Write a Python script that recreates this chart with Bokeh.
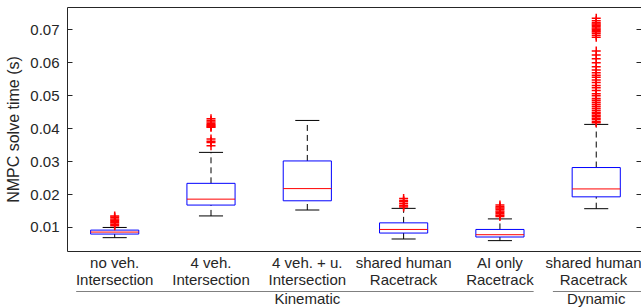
from bokeh.plotting import figure
from bokeh.models import LinearAxis, FixedTicker, Range1d
from bokeh.core.properties import value
from bokeh.embed import file_html
from bokeh.resources import INLINE

# ---------------- data ----------------
categories = ["no veh.\nIntersection", "4 veh.\nIntersection", "4 veh. + u.\nIntersection",
              "shared human\nRacetrack", "AI only\nRacetrack", "shared human\nRacetrack"]
groups = ["Kinematic", "Dynamic"]
group_sizes = [5, 1]

whisker_low = [0.0069, 0.0135, 0.0153, 0.0065, 0.0060, 0.0157]
q1 = [0.0080, 0.0168, 0.0181, 0.0083, 0.0071, 0.0193]
median = [0.0086, 0.0186, 0.0218, 0.0094, 0.0078, 0.0217]
q3 = [0.0092, 0.0234, 0.0302, 0.0114, 0.0094, 0.0282]
whisker_high = [0.0100, 0.0328, 0.0425, 0.0158, 0.0126, 0.0413]

outliers_no_veh = [0.0105, 0.0110, 0.0114, 0.0118, 0.0122, 0.0126, 0.0131, 0.0135]
outliers_4veh = [0.0348, 0.0358, 0.0362, 0.0369, 0.0404, 0.0406, 0.0410, 0.0412,
                 0.0416, 0.0420, 0.0425, 0.0430]
outliers_4veh_u = []
outliers_shared_kin = [0.0162, 0.0166, 0.0172, 0.0178, 0.0182, 0.0188]
outliers_ai_only = [0.0133, 0.0137, 0.0142, 0.0146, 0.0150, 0.0155, 0.0159, 0.0163, 0.0168]
outliers_shared_dyn = [0.0418, 0.0422, 0.0428, 0.0432, 0.0437, 0.0441, 0.0446, 0.0450,
                       0.0456, 0.0462, 0.0468, 0.0474, 0.0480, 0.0486, 0.0492, 0.0500,
                       0.0506, 0.0516, 0.0524, 0.0531, 0.0540, 0.0548, 0.0556, 0.0562,
                       0.0570, 0.0578, 0.0588, 0.0600, 0.0612, 0.0624, 0.0636, 0.0678,
                       0.0684, 0.0690, 0.0694, 0.0698, 0.0702, 0.0706, 0.0710, 0.0714,
                       0.0718, 0.0722, 0.0728, 0.0735]
outliers = [outliers_no_veh, outliers_4veh, outliers_4veh_u,
            outliers_shared_kin, outliers_ai_only, outliers_shared_dyn]

y_ticks = [0.01, 0.02, 0.03, 0.04, 0.05, 0.06, 0.07]
y_tick_labels = ["0.01", "0.02", "0.03", "0.04", "0.05", "0.06", "0.07"]
y_label = "NMPC solve time (s)"

# ---------------- layout / style ----------------
FONT = "Liberation Sans"
AX = "#262626"
positions = list(range(1, len(categories) + 1))
Y0, Y1 = 0.0027, 0.0768
FIG_W, FIG_H = 641, 307
TOP, BOTTOM = 7, 56
FRAME_H = FIG_H - BOTTOM - TOP
BOX_HALF = 0.25
CAP_HALF = 0.125

p = figure(width=FIG_W, height=FIG_H, x_range=Range1d(0.51, 6.47), y_range=Range1d(Y0, Y1),
           output_backend="svg", toolbar_location=None,
           x_axis_location=None, y_axis_location=None,
           min_border_left=67, min_border_right=0, min_border_top=TOP,
           min_border_bottom=BOTTOM)
p.grid.visible = False
p.outline_line_color = None
p.background_fill_color = "white"
p.border_fill_color = "white"

# left axis
yax = LinearAxis(ticker=FixedTicker(ticks=y_ticks),
                 major_label_overrides=dict(zip(y_ticks, y_tick_labels)),
                 axis_label=y_label,
                 axis_label_text_font=FONT, axis_label_text_font_size="16px",
                 axis_label_text_font_style="normal", axis_label_text_color=AX,
                 axis_label_standoff=5,
                 major_label_text_font=FONT, major_label_text_font_size="15px",
                 major_label_text_color=AX, major_label_standoff=8,
                 major_tick_in=5, major_tick_out=0, major_tick_line_color=AX,
                 minor_tick_line_color=None, axis_line_color=AX)
p.add_layout(yax, "left")

# right axis (ticks only)
rax = LinearAxis(ticker=FixedTicker(ticks=y_ticks), major_label_text_font_size="0px",
                 major_label_text_color=None, major_label_standoff=0,
                 major_tick_in=5, major_tick_out=0, major_tick_line_color=AX,
                 minor_tick_line_color=None, axis_line_color=None)
p.add_layout(rax, "right")

# top border
tax = LinearAxis(ticker=FixedTicker(ticks=[]), major_label_text_font_size="0px",
                 major_label_standoff=0, major_tick_in=0, major_tick_out=0,
                 major_tick_line_color=None,
                 minor_tick_line_color=None, axis_line_color=AX)
p.add_layout(tax, "above")

# bottom axis with category labels
xax = LinearAxis(ticker=FixedTicker(ticks=positions),
                 major_label_overrides=dict(zip(positions, categories)),
                 major_label_text_font=FONT, major_label_text_font_size="15px",
                 major_label_text_color=AX, major_label_standoff=2,
                 major_label_text_line_height=1.05,
                 major_tick_in=0, major_tick_out=0,
                 major_tick_line_color=None, minor_tick_line_color=None,
                 axis_line_color=AX)
p.add_layout(xax, "below")

# group labels and separator lines (drawn below the frame)
px_per_unit = FRAME_H / (Y1 - Y0)
group_centers, group_x0, group_x1 = [], [], []
start = 0
for n in group_sizes:
    members = positions[start:start + n]
    group_centers.append(sum(members) / n)
    group_x0.append(members[0] - 0.4)
    group_x1.append(members[-1] + 0.35)
    start += n
group_x0[1] = group_x0[1] - 0.05
group_x1[1] = group_x1[1] + 0.3
y_sep = Y0 - 40 / px_per_unit
y_grp = Y0 - 47 / px_per_unit
sep = p.segment(x0=group_x0, x1=group_x1, y0=[y_sep] * len(groups), y1=[y_sep] * len(groups),
                line_color="#808080", line_width=1)
sep.level = "overlay"
gl = p.text(x=group_centers, y=[y_grp] * len(groups), text=groups,
            text_align="center", text_baseline="middle",
            text_font=value(FONT), text_font_size="15px", text_color=AX)
gl.level = "overlay"

# whiskers
p.segment(x0=positions, x1=positions, y0=q3, y1=whisker_high,
          line_color="black", line_width=1, line_dash="6 4")
p.segment(x0=positions, x1=positions, y0=whisker_low, y1=q1,
          line_color="black", line_width=1, line_dash="6 4")
# caps
p.segment(x0=[x - CAP_HALF for x in positions], x1=[x + CAP_HALF for x in positions],
          y0=whisker_high, y1=whisker_high, line_color="black", line_width=1)
p.segment(x0=[x - CAP_HALF for x in positions], x1=[x + CAP_HALF for x in positions],
          y0=whisker_low, y1=whisker_low, line_color="black", line_width=1)
# boxes
p.quad(left=[x - BOX_HALF for x in positions], right=[x + BOX_HALF for x in positions],
       bottom=q1, top=q3, fill_color=None, line_color="#0000ff", line_width=1)
# medians
p.segment(x0=[x - BOX_HALF for x in positions], x1=[x + BOX_HALF for x in positions],
          y0=median, y1=median, line_color="#ff0000", line_width=1)
# outliers
ox, oy = [], []
for x, vals in zip(positions, outliers):
    ox += [x] * len(vals)
    oy += vals
p.scatter(ox, oy, marker="cross", size=9, line_color="#ff0000", line_width=1.5)

open("out.html", "w").write(file_html(p, INLINE))
